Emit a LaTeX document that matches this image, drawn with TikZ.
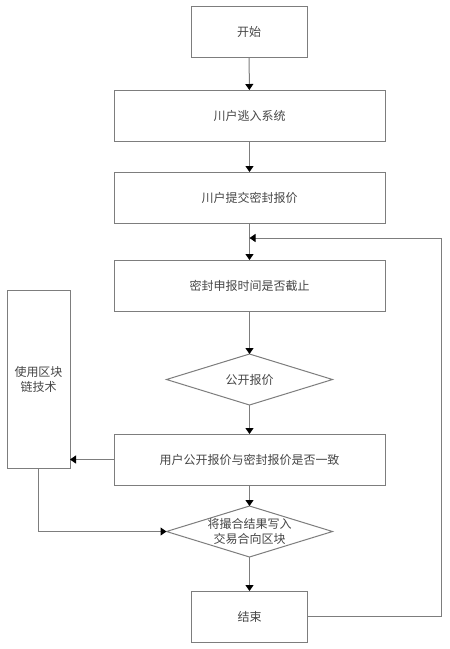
\documentclass[tikz,border=0pt]{standalone}
\usepackage{fontspec}
\newfontfamily\cjk{Noto Sans CJK SC}
\usetikzlibrary{arrows.meta,shapes.geometric}
\definecolor{linegray}{RGB}{125,125,125}
\definecolor{textgray}{RGB}{70,70,70}
\tikzset{
  box/.style={draw=linegray,line width=1pt,rectangle,inner sep=0pt,outer sep=0pt,
    font=\cjk\fontsize{12}{15}\selectfont,text=textgray,align=center},
  dia/.style={draw=linegray,line width=1pt,diamond,aspect=3.25,inner sep=0pt,outer sep=0pt,
    minimum width=166pt,minimum height=51pt},
  txt/.style={font=\cjk\fontsize{12}{15}\selectfont,text=textgray,align=center,inner sep=0pt},
  arr/.style={draw=linegray,line width=1pt,-{Triangle[width=8pt,length=6pt,fill=black,color=black]}},
  ln/.style={draw=linegray,line width=1pt}
}
\begin{document}
\begin{tikzpicture}[x=1pt,y=-1pt]
\useasboundingbox (0,0) rectangle (450,649);
\fill[white] (0,0) rectangle (450,649);
\node[box,minimum width=116pt,minimum height=51pt] (start) at (249,31.5) {开始};
\node[box,minimum width=271pt,minimum height=51pt] (n1) at (249.5,115.5) {川户逃入系统};
\node[box,minimum width=271pt,minimum height=51pt] (n2) at (249.5,197.5) {川户提交密封报价};
\node[box,minimum width=271pt,minimum height=51pt] (n3) at (249.5,285.5) {密封申报时间是否截止};
\node[dia] (d1) at (249.5,379.5) {};
\node[txt] (d1t) at (d1) {公开报价};
\node[box,minimum width=271pt,minimum height=51pt] (n4) at (249.5,459.5) {用户公开报价与密封报价是否一致};
\node[dia] (d2) at (249.5,531.5) {};
\node[txt] (d2t) at (d2) {将撮合结果写入\\交易合向区块};
\node[box,minimum width=116pt,minimum height=51pt] (end) at (249.5,616.5) {结束};
\node[box,minimum width=63pt,minimum height=178pt] (side) at (38.5,379) {使用区块\\链技术};
\coordinate (jn) at (249.5,238);
\coordinate (loopR) at (441,238);
\draw[arr] (start) -- (n1);
\draw[arr] (n1) -- (n2);
\draw[arr] (n2) -- (n3);
\draw[arr] (n3) -- (d1);
\draw[arr] (d1) -- (n4);
\draw[arr] (n4) -- (d2);
\draw[arr] (d2) -- (end);
\draw[arr] (n4.west) -- (n4.west -| side.east);
\draw[arr] (side.south) |- (d2.west);
\draw[arr] (end.east) -| (loopR) -- (jn);
\end{tikzpicture}
\end{document}
